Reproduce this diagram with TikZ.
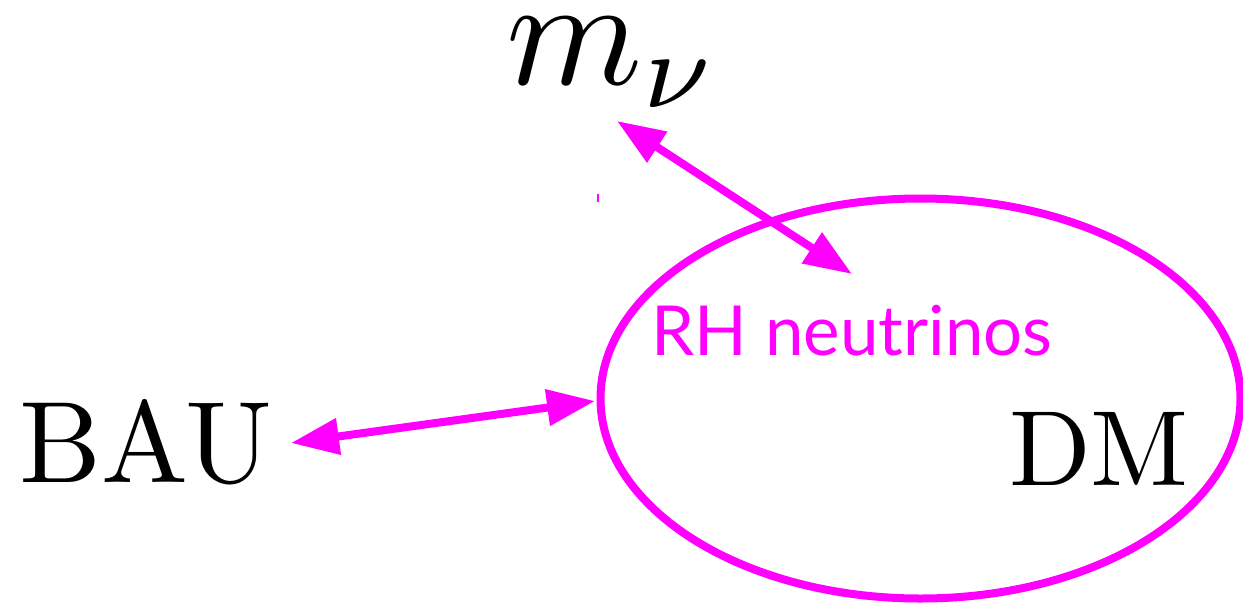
\documentclass[tikz,border=0pt]{standalone}
\usepackage{fontspec}
\usetikzlibrary{arrows.meta,shapes.geometric}
\newfontfamily\rhfont{Lato}
\definecolor{mag}{RGB}{255,0,255}
\begin{document}
\begin{tikzpicture}[x=1pt,y=-1pt,
  bigtext/.style={inner sep=0pt, text=black},
  magarrow/.style={mag, line width=8pt, {Triangle[length=48pt,width=35pt]}-{Triangle[length=48pt,width=35pt]}},
]
\useasboundingbox (0,0) rectangle (1243,603);
\node[draw=mag, line width=8pt, ellipse, minimum width=640pt, minimum height=400pt, inner sep=0pt] (E) at (920.5,398.5) {};
\node[bigtext, scale=15.5, anchor=base] (mnu) at (613,84) {$m_\nu$};
\node[bigtext, scale=11.6, anchor=base] (bau) at (146,482) {BAU};
\node[bigtext, scale=10.7, anchor=base] (dm) at (1099,485) {DM};
\node[inner sep=0pt, text=mag, anchor=base] (rh) at (852,355) {\fontsize{69}{69}\selectfont\rhfont RH neutrinos};
\coordinate (t1) at (617,121);
\coordinate (t2) at (852,274);
\coordinate (t3) at (291,443);
\coordinate (t4) at (595,401);
\draw[magarrow] (t1) -- (t2);
\draw[magarrow] (t3) -- (t4);
\coordinate (d1) at (598,194);
\coordinate (d2) at (598,202);
\draw[mag, line width=1.5pt] (d1) -- (d2);
\end{tikzpicture}
\end{document}
